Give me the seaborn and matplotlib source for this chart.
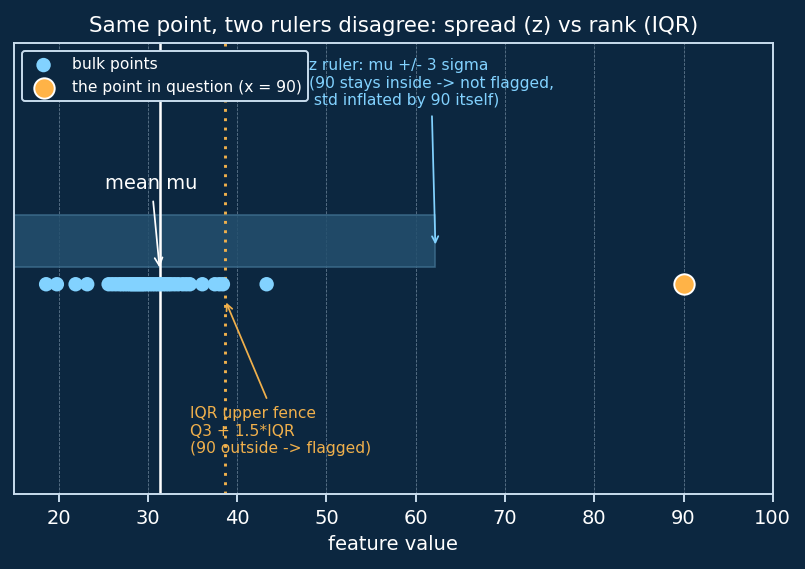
import numpy as np
import pandas as pd
import matplotlib.pyplot as plt
import seaborn as sns
from matplotlib.patches import Rectangle

plt.switch_backend('Agg')

# values
bulk_x = [18.6, 19.8, 21.9, 23.2, 25.6, 26.0, 26.4, 26.8, 27.1, 27.4,
          27.7, 28.0, 28.2, 28.4, 28.6, 28.8, 29.0, 29.2, 29.4, 29.6,
          29.9, 30.2, 30.5, 30.8, 31.1, 31.4, 31.7, 32.0, 32.3, 32.6,
          33.0, 33.4, 33.9, 34.3, 34.7, 36.1, 37.5, 38.0, 38.4, 43.3]
odd_x = [90]
mean_mu = 31.3
z_low, z_high = 0.4, 62.2
iqr_fence = 38.6
x_ticks = [20, 30, 40, 50, 60, 70, 80, 90, 100]

bg = '#0c2740'
fg = 'white'
blue = '#82d2ff'
orange = '#ffb347'
fence_col = '#f0b04c'
spine_col = '#c9dced'

sns.set_style('dark')
plt.rcParams['font.family'] = ['DejaVu Sans']

fig = plt.figure(figsize=(5.75, 4.065), dpi=140, facecolor=bg)
ax = fig.add_axes([0.0174, 0.132, 0.9426, 0.792], facecolor=bg)

bulk = pd.DataFrame({'x': bulk_x, 'y': 0.0})
odd = pd.DataFrame({'x': odd_x, 'y': 0.0})

# z ruler band mu +/- 3 sigma
ax.add_patch(Rectangle((z_low, 0.08), z_high - z_low, 0.25,
                       facecolor='#24506e', edgecolor='#3f6f8f', lw=0.8,
                       alpha=0.85, zorder=1))

ax.axvline(mean_mu, color='white', lw=1.3, zorder=2)
ax.axvline(iqr_fence, color=fence_col, lw=1.5, ls=(0, (1, 2.2)), zorder=2)

sns.scatterplot(data=bulk, x='x', y='y', ax=ax, color=blue, s=55,
                edgecolor='none', label='bulk points', zorder=3)
sns.scatterplot(data=odd, x='x', y='y', ax=ax, color=orange, s=110,
                edgecolor='white', linewidth=1.0,
                label='the point in question (x = 90)', zorder=4)

ax.annotate('mean mu', xy=(mean_mu, 0.08), xytext=(30.4, 0.48),
            color=fg, fontsize=10, ha='center', va='center',
            arrowprops=dict(arrowstyle='->', color='white', lw=0.9, shrinkB=0))
ax.annotate('z ruler: mu +/- 3 sigma\n(90 stays inside -> not flagged,\n std inflated by 90 itself)',
            xy=(z_high, 0.19), xytext=(48.0, 0.96),
            color=blue, fontsize=8, ha='left', va='center',
            arrowprops=dict(arrowstyle='->', color=blue, lw=0.9, shrinkB=0))
ax.annotate('IQR upper fence\nQ3 + 1.5*IQR\n(90 outside -> flagged)',
            xy=(iqr_fence, -0.07), xytext=(34.7, -0.70),
            color=fence_col, fontsize=8, ha='left', va='center',
            arrowprops=dict(arrowstyle='->', color=fence_col, lw=0.9))

ax.set_xlim(15, 100)
ax.set_ylim(-1.0, 1.15)
ax.set_yticks([])
ax.set_xticks(x_ticks)
ax.set_ylabel('')
ax.set_xlabel('feature value', color=fg, fontsize=10)
ax.tick_params(axis='x', colors=spine_col, labelcolor=fg, labelsize=10,
               length=4, width=1, bottom=True)
ax.grid(False)
ax.xaxis.grid(True, color='#9fb6c9', ls='--', lw=0.4, alpha=0.6)
for s in ax.spines.values():
    s.set_visible(True)
    s.set_color(spine_col)
    s.set_linewidth(1.0)

ax.set_title('Same point, two rulers disagree: spread (z) vs rank (IQR)',
             color=fg, fontsize=11)

leg = ax.legend(loc='upper left', fontsize=8, facecolor=bg,
                edgecolor=spine_col, framealpha=1.0)
for t in leg.get_texts():
    t.set_color(fg)

fig.savefig('out.png', dpi=140, facecolor=bg)
